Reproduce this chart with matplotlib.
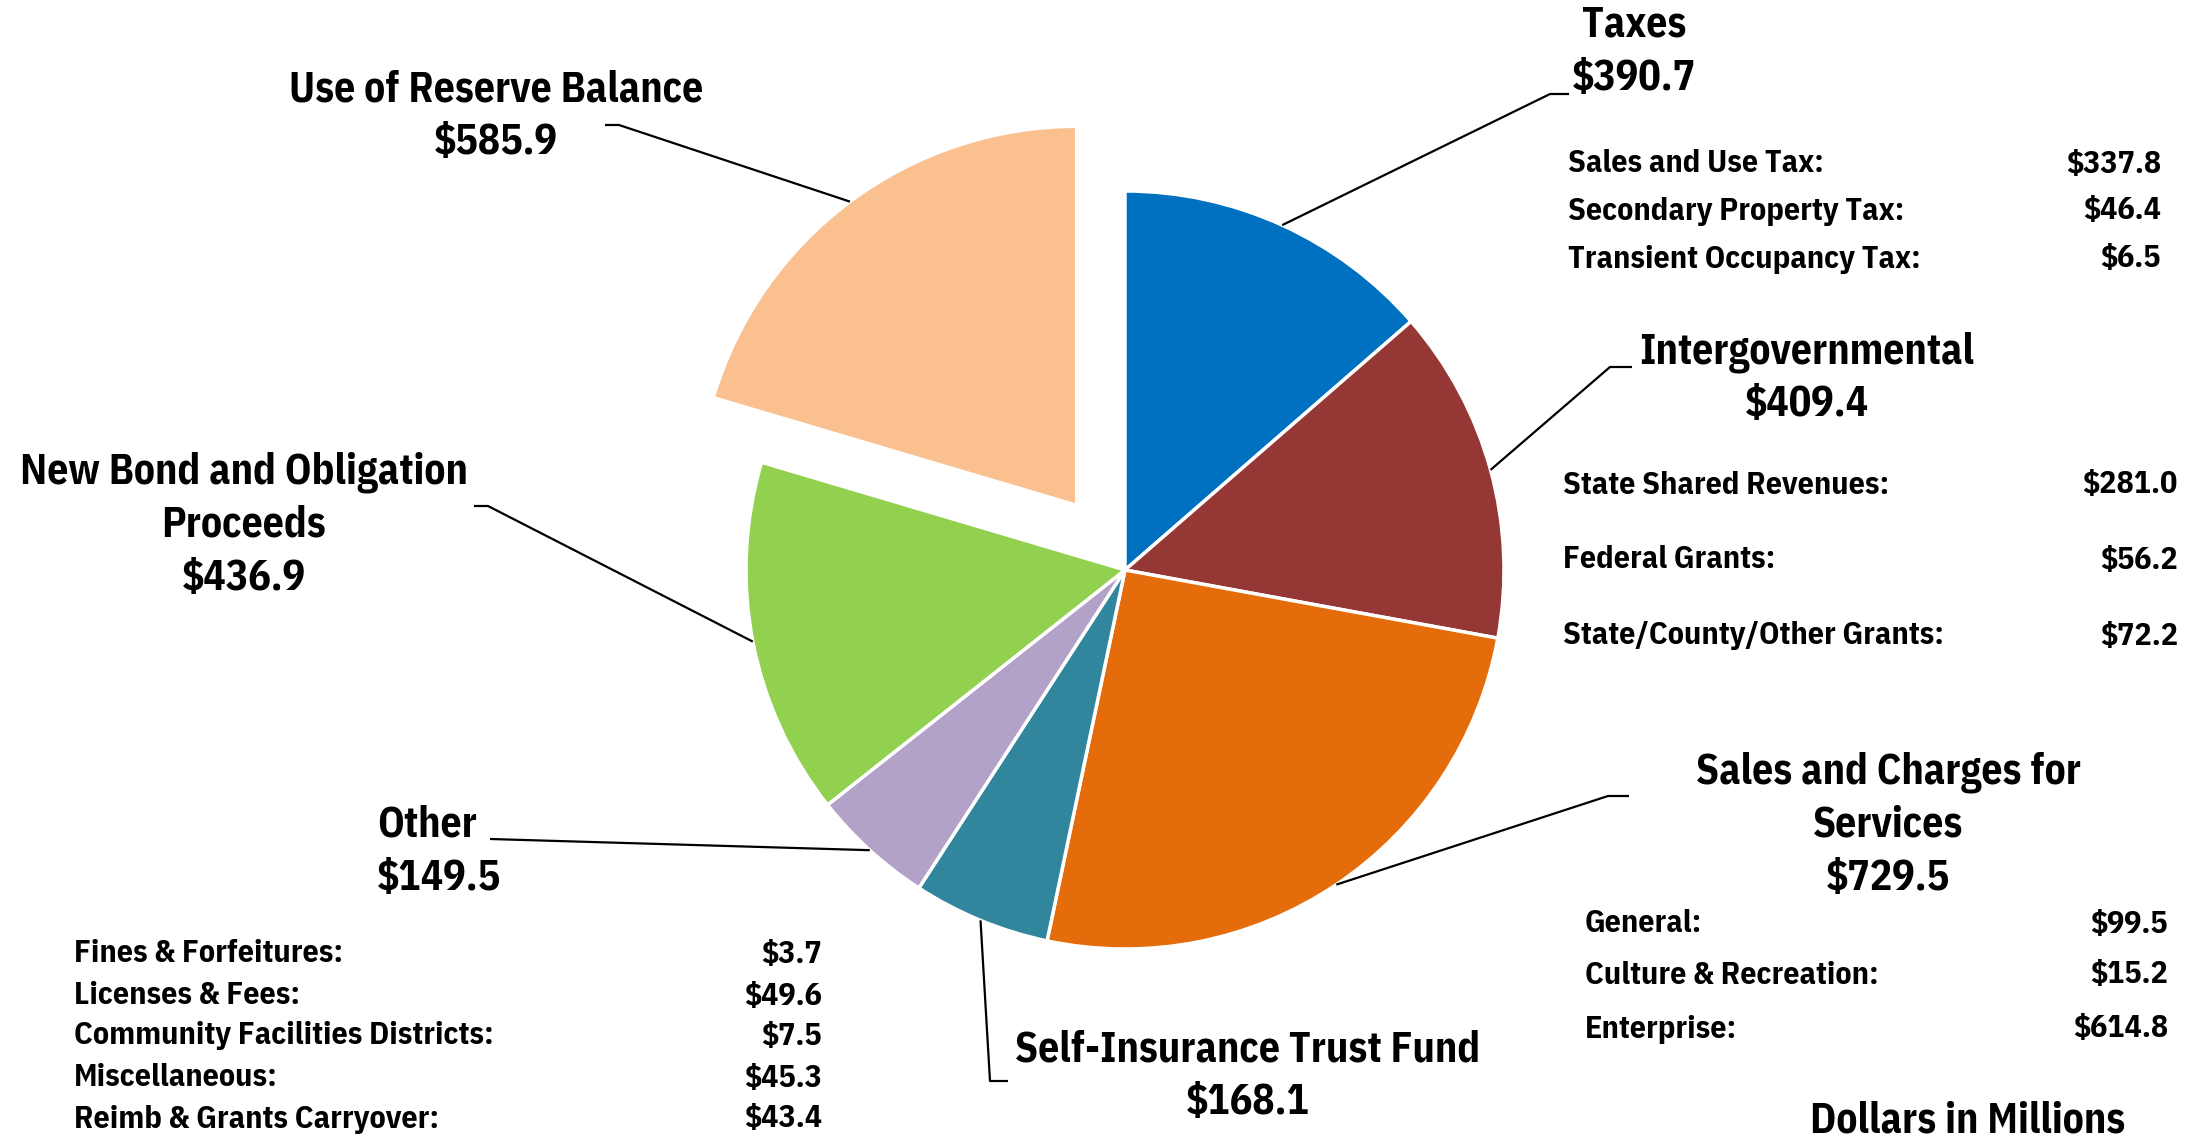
import matplotlib
matplotlib.use("Agg")
import matplotlib.pyplot as plt
import numpy as np

plt.rcParams["font.family"] = ["IBM Plex Sans Condensed", "DejaVu Sans"]
plt.rcParams["font.weight"] = "bold"

# revenue categories, dollars in millions
categories = ["Taxes", "Intergovernmental", "Sales and Charges for\nServices",
              "Self-Insurance Trust Fund", "Other", "New Bond and Obligation\nProceeds",
              "Use of Reserve Balance"]
values = [390.7, 409.4, 729.5, 168.1, 149.5, 436.9, 585.9]
colors = ["#0070C0", "#953735", "#E46C0A", "#31859C", "#B3A2C7", "#92D050", "#FAC090"]
explode_frac = [0, 0, 0, 0, 0, 0, 0.213]

tax_items = ["Sales and Use Tax:", "Secondary Property Tax:", "Transient Occupancy Tax:"]
tax_values = [337.8, 46.4, 6.5]
intergov_items = ["State Shared Revenues:", "Federal Grants:", "State/County/Other Grants:"]
intergov_values = [281.0, 56.2, 72.2]
sales_items = ["General:", "Culture & Recreation:", "Enterprise:"]
sales_values = [99.5, 15.2, 614.8]
other_items = ["Fines & Forfeitures:", "Licenses & Fees:", "Community Facilities Districts:",
               "Miscellaneous:", "Reimb & Grants Carryover:"]
other_values = [3.7, 49.6, 7.5, 45.3, 43.4]

W, H = 2196, 1141
fig = plt.figure(figsize=(W / 100, H / 100), dpi=100)
ax = fig.add_axes([0, 0, 1, 1])


def Y(y):
    # pixel row from top -> data y
    return H - y


cx, cy, r = 1125, Y(570), 379
# pie explode is in data units, so scale by radius
wedges, _ = ax.pie(values, colors=colors, explode=[e * r for e in explode_frac],
                   startangle=90, counterclock=False, center=(cx, cy), radius=r, frame=True,
                   wedgeprops=dict(edgecolor="white", linewidth=2.5))
ax.set_xlim(0, W)
ax.set_ylim(0, H)
ax.set_aspect("equal")
ax.axis("off")

BIG = 30
SMALL = 23
LINE = 53  # px between label lines


def edge_point(w):
    mid = np.deg2rad((w.theta1 + w.theta2) / 2)
    x0, y0 = w.center
    return x0 + w.r * np.cos(mid), y0 + w.r * np.sin(mid)


def leader(w, pts):
    ex, ey = edge_point(w)
    xs = [ex] + [p[0] for p in pts]
    ys = [ey] + [Y(p[1]) for p in pts]
    ax.plot(xs, ys, color="black", lw=1.6, solid_capstyle="butt")


def label(x, y, i, ha="center"):
    lines = categories[i].split("\n") + [f"${values[i]:,.1f}"]
    for k, s in enumerate(lines):
        ax.text(x, Y(y + k * LINE), s, fontsize=BIG, fontweight="bold", ha=ha, va="center")


def detail(xl, xr, ys, items, vals):
    for yy, it, v in zip(ys, items, vals):
        ax.text(xl, Y(yy), it, fontsize=SMALL, fontweight="bold", ha="left", va="center")
        ax.text(xr, Y(yy), f"${v:,.1f}", fontsize=SMALL, fontweight="bold", ha="right", va="center")


# Taxes
label(1634, 25, 0)
leader(wedges[0], [(1550, 94), (1569, 94)])
detail(1568, 2161, [164, 211, 259], tax_items, tax_values)

# Intergovernmental
label(1807, 352, 1)
leader(wedges[1], [(1610, 367), (1632, 367)])
detail(1563, 2178, [485, 560, 636], intergov_items, intergov_values)

# Sales and Charges for Services
label(1888, 772, 2)
leader(wedges[2], [(1608, 796), (1629, 796)])
detail(1585, 2168, [924, 975, 1029], sales_items, sales_values)

# Self-Insurance Trust Fund
label(1248, 1050, 3)
leader(wedges[3], [(990, 1081), (1008, 1081)])

# Other
label(377, 825, 4, ha="left")
leader(wedges[4], [(490, 839)])
detail(74, 822, [954, 996, 1036, 1078, 1119], other_items, other_values)

# New Bond and Obligation Proceeds
label(244, 472, 5)
leader(wedges[5], [(488, 506), (474, 506)])

# Use of Reserve Balance
label(496, 90, 6)
leader(wedges[6], [(619, 125), (605, 125)])

ax.text(1968, Y(1121), "Dollars in Millions", fontsize=BIG, fontweight="bold",
        ha="center", va="center")

fig.savefig("out.png", dpi=100)
